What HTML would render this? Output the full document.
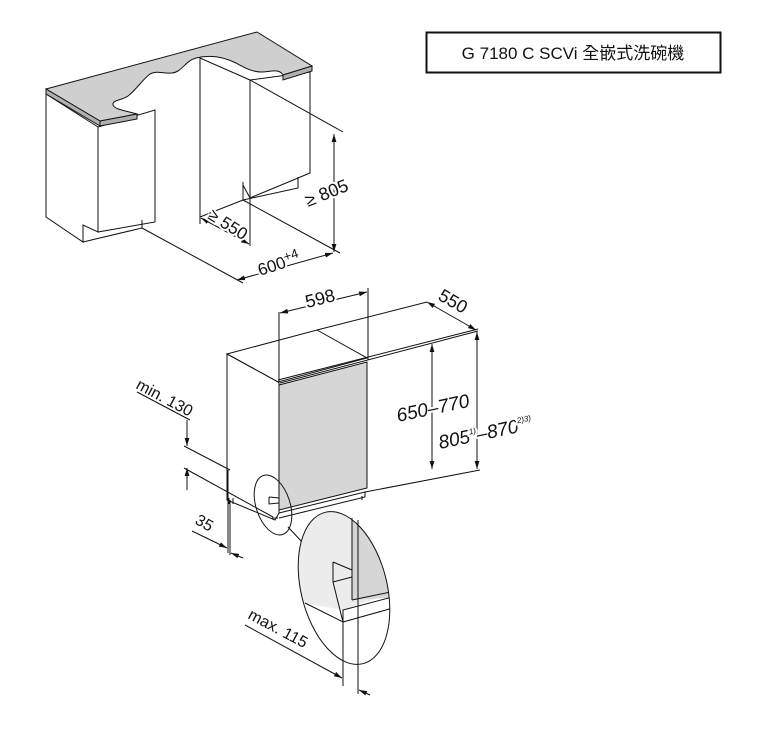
<!DOCTYPE html>
<html><head><meta charset="utf-8"><style>
html,body{margin:0;padding:0;background:#fff;}
svg{display:block;}
text{font-family:"Liberation Sans","Noto Sans CJK TC",sans-serif;fill:#111;}
.w{paint-order:stroke;stroke:#fff;stroke-width:4px;}
</style></head><body>
<svg width="784" height="742" viewBox="0 0 784 742" xmlns="http://www.w3.org/2000/svg">
<defs>
<marker id="a" viewBox="0 0 10 10" refX="10" refY="5" markerWidth="8" markerHeight="8" orient="auto-start-reverse"><path d="M0,2 L10,5 L0,8 z" fill="#111"/></marker>
</defs>
<rect x="426.5" y="32.5" width="294" height="40" fill="#fff" stroke="#111" stroke-width="2"/>
<text x="573" y="59" font-size="17" text-anchor="middle">G 7180 C SCVi 全嵌式洗碗機</text>

<g stroke="#111" stroke-width="1" fill="none">
<!-- right cabinet (behind countertop) -->
<path d="M200,58 L200,217 L243,200 L243,185 L250,198 L250,80 Z" fill="#fff"/>
<path d="M250,80 L310,72 L310,173 L250,198 Z" fill="#fff"/>
<path d="M243,182 L243,200 L298,188 L298,177"/>
<!-- left cabinet -->
<path d="M46,94 L46,217 L83,242 L83,225 L98,232 L98,127 Z" fill="#fff"/>
<path d="M98,127 L155,110 L155,222 L98,232 Z" fill="#fff"/>
<path d="M83,242 L142,228 L142,220"/>
<!-- countertop -->
<path d="M46,89 L257,32 L312,66 L283,75 C279,68 270,72 262,72 C252,72 245,68 236,63 C222,56 208,55 196,58 C185,61 182,72 172,73 C162,74 158,70 150,74 C142,80 136,90 128,96 C120,101 112,100 113,105 C115,110 128,111 137,114 L100,121 Z" fill="#cfcfcf"/>
<path d="M46,89 L46,94 L100,126 L100,121 Z" fill="#b0b0b0"/>
<path d="M100,126 L137,119 L137,114 L100,121 Z" fill="#b0b0b0"/>
<path d="M283,75 L283,80 L312,71 L312,66 Z" fill="#b0b0b0"/>
<!-- dims top -->
<path d="M250,80 L343,132"/>
<path d="M243,200 L340,253"/>
<path d="M142,228 L243,283"/>
<path d="M200,217 L200,224"/>
<path d="M250,198 L250,246"/>
<line x1="334" y1="134" x2="334" y2="252" marker-start="url(#a)" marker-end="url(#a)"/>
<line x1="237" y1="280" x2="333" y2="253" marker-start="url(#a)" marker-end="url(#a)"/>
<line x1="201" y1="218" x2="249" y2="244" marker-start="url(#a)" marker-end="url(#a)"/>
</g>
<text class="w" font-size="18" transform="translate(308,207) rotate(-22)">≥ 805</text>
<text class="w" font-size="17" transform="translate(207,218) rotate(32)">≥ 550</text>
<text class="w" font-size="17" transform="translate(260,276) rotate(-18)">600<tspan font-size="13" dy="-6">+4</tspan></text>

<g stroke="#111" stroke-width="1" fill="none">
<path d="M227,354 L317,330 L367,358 L278,382 Z" fill="#fff"/>
<path d="M227,354 L227,500 L275,520 L279,513 L279,383 L278,382 Z" fill="#fff"/>
<path d="M279,385 L367,362 L367,488 L279,510 Z" fill="#d6d6d6"/>
<path d="M278,380 L478,329 M280,383 L478,331"/>
<path d="M317,330 L427,302"/>
<path d="M279,513 L365,492 L365,497 L279,518"/>
<path d="M365,492 L480,470"/>
<path d="M229,498 L229,504 M233,498 L233,504 M362,496 L362,500 M272,518 L278,518"/>
<path d="M279,312 L279,383 M368,288 L368,360"/>
<line x1="280" y1="313" x2="367" y2="292" marker-start="url(#a)" marker-end="url(#a)"/>
<line x1="427" y1="302" x2="476" y2="330" marker-start="url(#a)" marker-end="url(#a)"/>
<line x1="432" y1="344" x2="432" y2="469" marker-start="url(#a)" marker-end="url(#a)"/>
<line x1="477" y1="332" x2="477" y2="469" marker-start="url(#a)" marker-end="url(#a)"/>
<path d="M137,392 L190,420"/>
<line x1="187" y1="420" x2="187" y2="446" marker-end="url(#a)"/>
<line x1="187" y1="490" x2="187" y2="468" marker-end="url(#a)"/>
<path d="M184,446 L230,470 M184,468 L273,517"/>
<path d="M228,470 L228,553 M230,500 L230,555"/>
<line x1="192" y1="531" x2="227" y2="548" marker-end="url(#a)"/>
<line x1="243" y1="558" x2="231" y2="553" marker-end="url(#a)"/>
<ellipse cx="273" cy="505" rx="17" ry="31" transform="rotate(-18 273 505)"/>
<path d="M269,497 L269,504 L279,503 M269,497 L279,498"/>
<path d="M288,527 L303,543"/>
<clipPath id="c"><ellipse cx="344" cy="588" rx="43" ry="78" transform="rotate(-14 344 588)"/></clipPath>
<g clip-path="url(#c)">
<rect x="290" y="500" width="110" height="200" fill="#fff"/>
<path d="M290,596 L290,500 L400,500 L400,590 L343,610 L305,603 Z" fill="#ececec" stroke="none"/>
<path d="M352,510 L400,510 L400,597 L352,600 Z" fill="#d6d6d6" stroke="none"/>
<path d="M305,603 L343,622 L343,610 L400,595 M343,622 L400,606"/>
<path d="M352,600 L400,590"/>
</g>
<ellipse cx="344" cy="588" rx="43" ry="78" transform="rotate(-14 344 588)"/>
<path d="M333,562 L352,570 M333,562 L333,582 L352,577 M333,582 L343,622"/>
<path d="M352,518 L352,600 M358,520 L358,694 M343,622 L343,686"/>
<line x1="245" y1="625" x2="342" y2="678" marker-end="url(#a)"/>
<line x1="370" y1="695" x2="359" y2="690" marker-end="url(#a)"/>
</g>
<text class="w" font-size="18" transform="translate(307,308) rotate(-14)">598</text>
<text class="w" font-size="18" transform="translate(437,299) rotate(30)">550</text>
<text class="w" font-size="19" font-style="italic" transform="translate(398,422) rotate(-12)">650–770</text>
<text class="w" font-size="19" font-style="italic" transform="translate(440,449) rotate(-12)">805<tspan font-size="8" dy="-8">1)</tspan><tspan dy="8">–870</tspan><tspan font-size="8" dy="-9">2)3)</tspan></text>
<text font-size="16" transform="translate(135,388) rotate(28)">min. 130</text>
<text font-size="16" transform="translate(194,523) rotate(30)">35</text>
<text font-size="16" transform="translate(247,618) rotate(28)">max. 115</text>
</svg>
</body></html>
